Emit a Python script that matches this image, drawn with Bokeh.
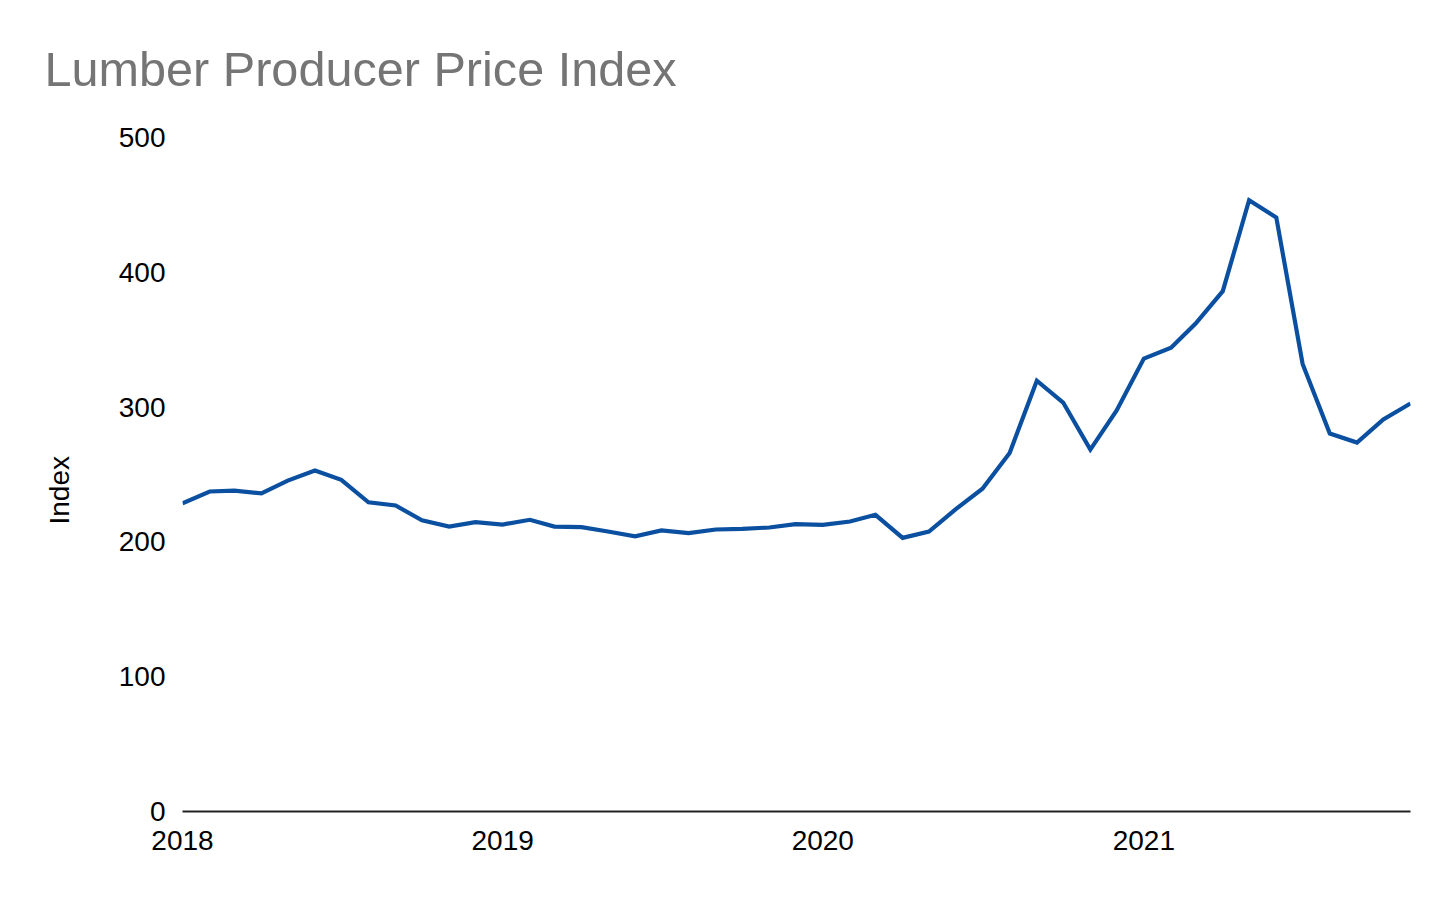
import pandas as pd
from bokeh.plotting import figure
from bokeh.models import Range1d, FixedTicker, Title, DatetimeTickFormatter
from bokeh.embed import file_html
from bokeh.resources import INLINE

# ---- data ----
months = pd.date_range("2018-01-01", "2021-11-01", freq="MS")
ppi = [
    228.7, 237.4, 238.0, 236.0, 245.5, 253.0, 246.0, 229.4, 227.0, 216.0, 211.4, 214.6,
    212.9, 216.4, 211.4, 210.9, 207.7, 204.2, 208.5, 206.5, 209.2, 209.7, 210.7, 213.2,
    212.7, 215.1, 220.1, 203.0, 207.7, 224.5, 239.5, 266.0, 319.6, 303.4, 268.5, 297.5,
    336.0, 344.0, 362.0, 386.0, 453.5, 440.7, 332.0, 280.4, 273.7, 290.8, 302.7,
]
year_ticks = ["2018-01-01", "2019-01-01", "2020-01-01", "2021-01-01"]
y_ticks = [0, 100, 200, 300, 400, 500]
title_text = "Lumber Producer Price Index"
y_label = "Index"

FONT = "Liberation Sans"

p = figure(
    width=1448, height=892,
    x_axis_type="datetime",
    output_backend="svg", toolbar_location=None,
    x_range=Range1d(months[0], months[-1]),
    y_range=Range1d(0, 500),
    min_border_left=182, min_border_right=38,
    min_border_top=137, min_border_bottom=81,
)

p.title.text = title_text
p.title.text_font = FONT
p.title.text_font_size = "48.6px"
p.title.text_font_style = "normal"
p.title.text_color = "#757575"
p.title.align = "left"
p.title.vertical_align = "top"
p.title.offset = -138
p.title.standoff = 80

p.line(months, ppi, line_color="#0b50a0", line_width=4.2, line_join="miter")

p.xgrid.visible = False
p.ygrid.visible = False
p.outline_line_color = None
p.background_fill_color = "white"
p.border_fill_color = "white"

xa = p.xaxis[0]
xa.ticker = FixedTicker(ticks=[pd.Timestamp(t).value / 1e6 for t in year_ticks])
xa.formatter = DatetimeTickFormatter(years="%Y", months="%Y", days="%Y", hours="%Y")
xa.axis_line_color = "#222222"
xa.axis_line_width = 2
xa.major_tick_line_color = None
xa.minor_tick_line_color = None
xa.major_tick_out = 0
xa.major_tick_in = 0
xa.major_label_standoff = 19
xa.major_label_text_font = FONT
xa.major_label_text_font_size = "28px"
xa.major_label_text_color = "black"

ya = p.yaxis[0]
ya.ticker = FixedTicker(ticks=y_ticks)
ya.axis_line_color = None
ya.major_tick_line_color = None
ya.minor_tick_line_color = None
ya.major_tick_out = 0
ya.major_tick_in = 0
ya.major_label_standoff = 17
ya.major_label_text_font = FONT
ya.major_label_text_font_size = "28px"
ya.major_label_text_color = "black"

p.add_layout(Title(
    text=y_label, align="left", offset=287, standoff=82,
    text_font=FONT, text_font_size="28px", text_font_style="normal",
    text_color="black",
), "left")

open("out.html", "w").write(file_html(p, INLINE))
